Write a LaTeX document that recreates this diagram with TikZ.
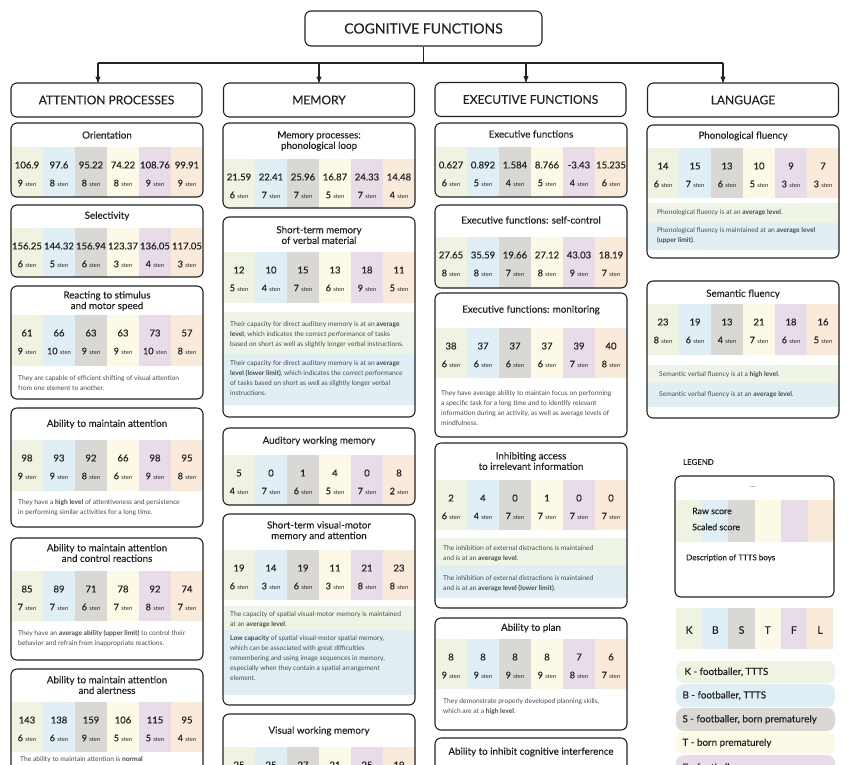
\documentclass[tikz,border=0pt]{standalone}
\usepackage{fontspec}
\setmainfont{Lato}
\newfontfamily\midfont{Lato}[FakeBold=0.35]
\usetikzlibrary{arrows}

\definecolor{kcol}{HTML}{EEF3E2}
\definecolor{bcol}{HTML}{E0EFF5}
\definecolor{scol}{HTML}{DAD8D5}
\definecolor{tcol}{HTML}{FDF9E7}
\definecolor{fcol}{HTML}{E7DCE7}
\definecolor{lcol}{HTML}{F9EADA}
\definecolor{dgreen}{HTML}{EFF5E6}
\definecolor{dblue}{HTML}{E1EFF5}
\definecolor{inkcol}{HTML}{222222}
\definecolor{desccol}{HTML}{4A4A4A}

\newcommand{\stenfont}{\fontsize{5.8}{6}\selectfont}
% colour columns of one panel
\newcommand{\scoreband}[3]{%
  \foreach \col [count=\i from 0] in {kcol,bcol,scol,tcol,fcol,lcol}
    \fill[\col] (#1+\i*32,#2) rectangle (#1+\i*32+32,#3);
}
% raw and sten scores
\newcommand{\scores}[4]{%
  \foreach \v/\s [count=\i from 0] in {#4}{
    \node[rawnum] (#1-r\i) at (#2+\i*32+16,#3+18) {\v};
    \node[stennum] (#1-s\i) at (#2+\i*32+16,#3+36) {\s\hspace{2.4pt}{\normalfont\stenfont sten}};
  }
}
\newcommand{\panelclip}[3]{\clip[rounded corners=6pt] (#1,#2) rectangle (#1+192,#3);}
\newcommand{\panelframe}[3]{\draw[frame] (#1,#2) rectangle (#1+192,#3);}

\begin{document}
\begin{tikzpicture}[x=1pt, y=-1pt, >=stealth',
    frame/.style={draw=inkcol, line width=1.1pt, rounded corners=6pt},
    head/.style={draw=inkcol, line width=1.1pt, rounded corners=6pt, minimum width=191pt,
      minimum height=34pt, text=inkcol, font=\midfont\fontsize{12}{14}\selectfont},
    conn/.style={draw=inkcol, line width=1.1pt},
    ptitle/.style={align=center, text=inkcol, font=\midfont\fontsize{9.8}{10.6}\selectfont},
    rawnum/.style={text=inkcol, inner sep=0, font=\midfont\fontsize{9.5}{11}\selectfont},
    stennum/.style={text=inkcol, inner sep=0, font=\midfont\fontsize{9}{11}\selectfont},
    desc/.style={anchor=north west, align=left, inner sep=0, text=desccol,
      font=\fontsize{6.7}{10.2}\selectfont},
    pilltext/.style={anchor=west, text=inkcol, font=\midfont\fontsize{9.8}{11}\selectfont},
    legtext/.style={anchor=west, inner sep=0, text=inkcol}]
    \useasboundingbox (0,0) rectangle (850,764);

    % Top and headers
    \node[head, minimum width=237pt, minimum height=35pt, font=\midfont\fontsize{14}{16}\selectfont]
      (cf) at (423.5,28.5) {COGNITIVE FUNCTIONS};
    \node[head] (att) at (106.5,100) {ATTENTION PROCESSES};
    \node[head] (mem) at (319,100) {MEMORY};
    \node[head] (exe) at (530.5,99.5) {EXECUTIVE FUNCTIONS};
    \node[head] (lang) at (743,100) {LANGUAGE};

    % Connectors
    \coordinate (ta) at (98,63);
    \coordinate (tm) at (319,63);
    \coordinate (te) at (526,63);
    \coordinate (tl) at (723,63);
    \draw[conn] (cf.south) -- (cf.south |- ta);
    \draw[conn] (ta) -- (tl);
    \foreach \h/\t in {att/ta,mem/tm,exe/te,lang/tl}
      \draw[conn,->] (\t) -- (\t |- \h.north);

    % Attention processes
    \begin{scope}
      \panelclip{11}{123}{197}
      \scoreband{11}{147}{197}
    \end{scope}
    \panelframe{11}{123}{197}
    \node[ptitle] (ori) at (107,135) {Orientation};
    \scores{ori}{11}{147}{106.9/9, 97.6/8, 95.22/8, 74.22/8, 108.76/9, 99.91/9}

    \begin{scope}
      \panelclip{11}{205}{277}
      \scoreband{11}{228}{277}
    \end{scope}
    \panelframe{11}{205}{277}
    \node[ptitle] (sel) at (107,216) {Selectivity};
    \scores{sel}{11}{228}{156.25/6, 144.32/5, 156.94/6, 123.37/3, 136.05/4, 117.05/3}

    \begin{scope}
      \panelclip{11}{286}{399}
      \scoreband{11}{315}{366}
    \end{scope}
    \panelframe{11}{286}{399}
    \node[ptitle] (rea) at (107,301) {Reacting to stimulus\\and motor speed};
    \scores{rea}{11}{315}{61/9, 66/10, 63/9, 63/9, 73/10, 57/8}
    \node[desc] (rea-d) at (18,375) {They are capable of efficient shifting of visual attention\\from one element to another.};

    \begin{scope}
      \panelclip{11}{408}{527}
      \scoreband{11}{440}{491}
    \end{scope}
    \panelframe{11}{408}{527}
    \node[ptitle] (mai) at (107,424) {Ability to maintain attention};
    \scores{mai}{11}{440}{98/9, 93/9, 92/8, 66/6, 98/9, 95/8}
    \node[desc] (mai-d) at (18,499) {They have a \textbf{high level} of attentiveness and persistence\\in performing similar activities for a long time.};

    \begin{scope}
      \panelclip{11}{538}{660}
      \scoreband{11}{571}{621}
    \end{scope}
    \panelframe{11}{538}{660}
    \node[ptitle] (con) at (107,553) {Ability to maintain attention\\and control reactions};
    \scores{con}{11}{571}{85/7, 89/7, 71/6, 78/7, 92/8, 74/7}
    \node[desc] (con-d) at (18,630) {They have an \textbf{average ability (upper limit)} to control their\\behavior and refrain from inappropriate reactions.};

    \begin{scope}
      \panelclip{11}{669}{800}
      \scoreband{11}{702}{752}
    \end{scope}
    \panelframe{11}{669}{800}
    \node[ptitle] (ale) at (107,685) {Ability to maintain attention\\and alertness};
    \scores{ale}{11}{702}{143/6, 138/6, 159/9, 106/5, 115/5, 95/4}
    \node[desc] (ale-d) at (20,756) {The ability to maintain attention is \textbf{normal}};

    % Memory
    \begin{scope}
      \panelclip{223}{123}{208}
      \scoreband{223}{159}{208}
    \end{scope}
    \panelframe{223}{123}{208}
    \node[ptitle] (pho) at (319,141) {Memory processes:\\phonological loop};
    \scores{pho}{223}{159}{21.59/6, 22.41/7, 25.96/7, 16.87/5, 24.33/7, 14.48/4}

    \begin{scope}
      \panelclip{223}{217}{417}
      \scoreband{223}{252}{303}
      \fill[dgreen] (223,312) rectangle (415,353);
      \fill[dblue] (223,353) rectangle (415,405);
    \end{scope}
    \panelframe{223}{217}{417}
    \node[ptitle] (ver) at (319,235) {Short-term memory\\of verbal material};
    \scores{ver}{223}{252}{12/5, 10/4, 15/7, 13/6, 18/9, 11/5}
    \node[desc] (ver-d1) at (230,321) {Their capacity for direct auditory memory is at an \textbf{average}\\\textbf{level}, which indicates the correct performance of tasks\\based on short as well as slightly longer verbal instructions.};
    \node[desc] (ver-d2) at (230,360) {Their capacity for direct auditory memory is at an \textbf{average}\\\textbf{level (lower limit)}, which indicates the correct performance\\of tasks based on short as well as slightly longer verbal\\instructions.};

    \begin{scope}
      \panelclip{223}{428}{505}
      \scoreband{223}{455}{505}
    \end{scope}
    \panelframe{223}{428}{505}
    \node[ptitle] (aud) at (319,441) {Auditory working memory};
    \scores{aud}{223}{455}{5/4, 0/7, 1/6, 4/5, 0/7, 8/2}

    \begin{scope}
      \panelclip{223}{514}{705}
      \scoreband{223}{550}{600}
      \fill[dgreen] (223,606) rectangle (415,630);
      \fill[dblue] (223,630) rectangle (415,695);
    \end{scope}
    \panelframe{223}{514}{705}
    \node[ptitle] (vmo) at (319,531) {Short-term visual-motor\\memory and attention};
    \scores{vmo}{223}{550}{19/6, 14/3, 19/6, 11/3, 21/8, 23/8}
    \node[desc] (vmo-d1) at (230,611) {The capacity of spatial visual-motor memory is maintained\\at an \textbf{average level}.};
    \node[desc] (vmo-d2) at (230,635) {\textbf{Low capacity} of spatial visual-motor spatial memory,\\which can be associated with great difficulties\\remembering and using image sequences in memory,\\especially when they contain a spatial arrangement\\element.};

    \begin{scope}
      \panelclip{223}{714}{800}
      \scoreband{223}{747}{800}
    \end{scope}
    \panelframe{223}{714}{800}
    \node[ptitle] (vis) at (319,731) {Visual working memory};
    \foreach \v [count=\i from 0] in {25,25,27,21,25,19}
      \node[rawnum] (vis-r\i) at (223+\i*32+16,765) {\v};

    % Executive functions
    \begin{scope}
      \panelclip{435}{123}{197}
      \scoreband{435}{147}{197}
    \end{scope}
    \panelframe{435}{123}{197}
    \node[ptitle] (exf) at (531,134) {Executive functions};
    \scores{exf}{435}{147}{0.627/6, 0.892/5, 1.584/4, 8.766/5, -3.43/4, 15.235/6}

    \begin{scope}
      \panelclip{435}{205}{288}
      \scoreband{435}{237}{288}
    \end{scope}
    \panelframe{435}{205}{288}
    \node[ptitle] (sco) at (531,220) {Executive functions: self-control};
    \scores{sco}{435}{237}{27.65/8, 35.59/8, 19.66/7, 27.12/8, 43.03/9, 18.19/7}

    \begin{scope}
      \panelclip{435}{293}{437}
      \scoreband{435}{328}{378}
    \end{scope}
    \panelframe{435}{293}{437}
    \node[ptitle] (mon) at (531,310) {Executive functions: monitoring};
    \scores{mon}{435}{328}{38/6, 37/6, 37/6, 37/6, 39/7, 40/8}
    \node[desc] (mon-d) at (441,390) {They have average ability to maintain focus on performing\\a specific task for a long time and to identify relevant\\information during an activity, as well as average levels of\\mindfulness.};

    \begin{scope}
      \panelclip{435}{443}{608}
      \scoreband{435}{480}{530}
      \fill[dgreen] (435,538) rectangle (627,565);
      \fill[dblue] (435,565) rectangle (627,598);
    \end{scope}
    \panelframe{435}{443}{608}
    \node[ptitle] (inh) at (531,461) {Inhibiting access\\to irrelevant information};
    \scores{inh}{435}{480}{2/6, 4/4, 0/7, 1/7, 0/7, 0/7}
    \node[desc] (inh-d1) at (443,545) {The inhibition of external distractions is maintained\\and is at an \textbf{average level}.};
    \node[desc] (inh-d2) at (443,575) {The inhibition of external distractions is maintained\\and is at an \textbf{average level (lower limit)}.};

    \begin{scope}
      \panelclip{435}{618}{730}
      \scoreband{435}{639}{689}
    \end{scope}
    \panelframe{435}{618}{730}
    \node[ptitle] (pla) at (531,628) {Ability to plan};
    \scores{pla}{435}{639}{8/9, 8/9, 8/9, 8/9, 7/8, 6/7}
    \node[desc] (pla-d) at (443,698) {They demonstrate properly developed planning skills,\\which are at a \textbf{high level}.};

    \panelframe{435}{738}{800}
    \node[ptitle] (int) at (531,752) {Ability to inhibit cognitive interference};

    % Language
    \begin{scope}
      \panelclip{647}{125}{258}
      \scoreband{647}{148}{198}
      \fill[dgreen] (647,203) rectangle (839,223);
      \fill[dblue] (647,223) rectangle (839,250);
    \end{scope}
    \panelframe{647}{125}{258}
    \node[ptitle] (phf) at (743,136) {Phonological fluency};
    \scores{phf}{647}{148}{14/6, 15/7, 13/6, 10/5, 9/3, 7/3}
    \node[desc] (phf-d1) at (657,209) {Phonological fluency is at an \textbf{average level}.};
    \node[desc] (phf-d2) at (657,227) {Phonological fluency is maintained at an \textbf{average level}\\\textbf{(upper limit)}.};

    \begin{scope}
      \panelclip{647}{281}{418}
      \scoreband{647}{304}{355}
      \fill[dgreen] (647,365) rectangle (839,383);
      \fill[dblue] (647,383) rectangle (839,407);
    \end{scope}
    \panelframe{647}{281}{418}
    \node[ptitle] (sef) at (743,294) {Semantic fluency};
    \scores{sef}{647}{304}{23/8, 19/6, 13/4, 21/7, 18/6, 16/5}
    \node[desc] (sef-d1) at (659,371) {Semantic verbal fluency is at a \textbf{high level}.};
    \node[desc] (sef-d2) at (659,391) {Semantic verbal fluency is at an \textbf{average level}.};

    % Legend
    \node[legtext, font=\midfont\fontsize{7.8}{9}\selectfont] (leg) at (683,462) {LEGEND};
    \begin{scope}
      \clip[rounded corners=6pt] (675,476) rectangle (834,597);
      \foreach \col [count=\i from 0] in {kcol,bcol,scol,tcol,fcol,lcol}
        \fill[\col] (675+\i*26.5,500) rectangle ++(26.5,42);
    \end{scope}
    \draw[frame] (675,476) rectangle (834,597);
    \node[inner sep=0, text=inkcol, font=\fontsize{6}{7}\selectfont] (leg-t) at (753,487) {....};
    \node[legtext, font=\midfont\fontsize{8.8}{10}\selectfont] (leg-r) at (692,511) {Raw score};
    \node[legtext, font=\midfont\fontsize{8.8}{10}\selectfont] (leg-s) at (692,527) {Scaled score};
    \node[legtext, font=\midfont\fontsize{8}{9}\selectfont] (leg-d) at (686,558) {Description of TTTS boys};

    % Key strip
    \foreach \col/\l [count=\i from 0] in {kcol/K,bcol/B,scol/S,tcol/T,fcol/F,lcol/L}{
      \fill[\col] (676+\i*26.2,608) rectangle ++(26.2,41);
      \node[text=inkcol, font=\midfont\fontsize{10.5}{12}\selectfont] (key-\l) at (676+\i*26.2+13.1,630) {\l};
    }

    % Key pills
    \fill[kcol, rounded corners=8pt] (676,661) rectangle (835,683);
    \fill[bcol, rounded corners=8pt] (676,684) rectangle (835,707);
    \fill[scol, rounded corners=8pt] (676,708) rectangle (835,731);
    \fill[tcol, rounded corners=8pt] (676,732) rectangle (835,754);
    \fill[fcol, rounded corners=8pt] (676,755) rectangle (835,778);
    \node[pilltext] (pk) at (681,672) {K - footballer, TTTS};
    \node[pilltext] (pb) at (679,695.5) {B - footballer, TTTS};
    \node[pilltext] (ps) at (679,719.5) {S - footballer, born prematurely};
    \node[pilltext] (pt) at (679,743) {T - born prematurely};
    \node[pilltext] (pf) at (679,767) {F - footballer};
  \end{tikzpicture}
\end{document}
